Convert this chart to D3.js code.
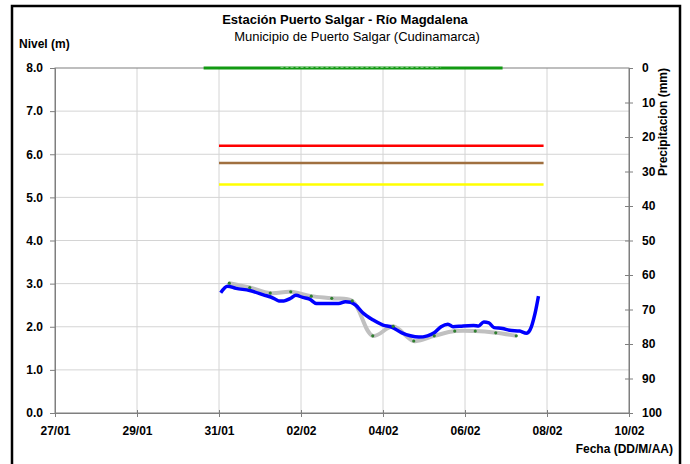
<!DOCTYPE html>
<meta charset="utf-8">
<style>
body { margin: 0; background: #fff; }
text { font-family: "Liberation Sans", Arial, sans-serif; }
.axis text { font-size: 12px; font-weight: bold; fill: #000; }
.axis path, .axis line { stroke: #7f7f7f; }
.grid line { stroke: #d4d4d4; stroke-width: 1px; }
</style>
<body>
<script src="https://d3js.org/d3.v7.min.js"></script>
<script>

// nivel del rio, hourly-ish readings (blue)
var nivelDates = ["31/01 01","31/01 05","31/01 10","31/01 18","01/02 02","01/02 08","01/02 11","01/02 14",
  "01/02 18","01/02 21","02/02 01","02/02 05","02/02 09","02/02 17","02/02 22","03/02 02","03/02 05",
  "03/02 08","03/02 12","03/02 18","04/02 00","04/02 05","04/02 11","04/02 16","04/02 21","05/02 02",
  "05/02 06","05/02 10","05/02 14","05/02 17","05/02 23","06/02 05","06/02 08","06/02 11","06/02 14",
  "06/02 17","06/02 22","07/02 02","07/02 08","07/02 12","07/02 14","07/02 17","07/02 19"];
var nivelValues = [2.79,2.94,2.89,2.84,2.74,2.66,2.60,2.60,
  2.66,2.73,2.68,2.64,2.54,2.54,2.54,2.58,2.57,
  2.50,2.33,2.16,2.04,1.99,1.86,1.79,1.76,1.79,
  1.86,2.00,2.06,2.00,2.02,2.03,2.02,2.11,2.09,
  1.98,1.96,1.92,1.90,1.85,1.92,2.31,2.71];

// lecturas de mira, every 12 hours (gray line with dots)
var miraDates = ["31/01 06","31/01 18","01/02 06","01/02 18","02/02 06","02/02 18","03/02 06","03/02 18",
  "04/02 06","04/02 18","05/02 06","05/02 18","06/02 06","06/02 18","07/02 06"];
var miraValues = [3.01,2.91,2.78,2.81,2.71,2.66,2.60,1.79,2.01,1.67,1.79,1.90,1.90,1.86,1.79];

// umbrales
var umbralNames = ["rojo","naranja","amarillo"];
var umbralValues = [6.2, 5.8, 5.3];
var umbralColors = ["#ff0000", "#a07040", "#ffff00"];
var umbralStart = "31/01 00", umbralEnd = "07/02 22";

// precipitacion (mm)
var precipDates = ["30/01 15","06/02 22"];
var precipValues = [0, 0];

var xTicks = ["27/01","29/01","31/01","02/02","04/02","06/02","08/02","10/02"];
var yTicks = [0,1,2,3,4,5,6,7,8];
var y2Ticks = [0,10,20,30,40,50,60,70,80,90,100];

var margin = {top: 68, right: 61, bottom: 51, left: 55},
    width = 690 - margin.left - margin.right,
    height = 464 - margin.top - margin.bottom;

var parseTime = d3.timeParse("%d/%m %H");
var parseDay = d3.timeParse("%d/%m");
var fmtDay = d3.timeFormat("%d/%m");

var x = d3.scaleTime().domain([parseDay("27/01"), parseDay("10/02")]).range([0, width]);
var y = d3.scaleLinear().domain([0, 8]).range([height, 0]);
var y2 = d3.scaleLinear().domain([0, 100]).range([0, height]);

var svg = d3.select("body").append("svg")
    .attr("width", 690)
    .attr("height", 464);

// outer frame
svg.append("rect")
    .attr("x", 12).attr("y", 6)
    .attr("width", 668).attr("height", 470)
    .attr("fill", "none").attr("stroke", "#000").attr("stroke-width", 2.5);

var g = svg.append("g")
    .attr("transform", "translate(" + margin.left + "," + margin.top + ")");

// grid
g.append("g").attr("class", "grid")
  .selectAll("line").data(yTicks.slice(1, -1)).join("line")
    .attr("x1", 0).attr("x2", width)
    .attr("y1", function(d) { return y(d); }).attr("y2", function(d) { return y(d); });
g.append("g").attr("class", "grid")
  .selectAll("line").data(xTicks.slice(1, -1)).join("line")
    .attr("x1", function(d) { return x(parseDay(d)); }).attr("x2", function(d) { return x(parseDay(d)); })
    .attr("y1", 0).attr("y2", height);

// frame of plot
g.append("rect").attr("width", width).attr("height", height)
    .attr("fill", "none").attr("stroke", "#7f7f7f");

// axes
g.append("g").attr("class", "axis")
    .call(d3.axisLeft(y).tickValues(yTicks).tickFormat(d3.format(".1f")).tickSize(5).tickPadding(7));

var right = g.append("g").attr("class", "axis")
    .attr("transform", "translate(" + width + ",0)")
    .call(d3.axisRight(y2).tickValues(y2Ticks).tickSize(4).tickPadding(9));
right.selectAll(".tick").filter(function(d) { return d > 0; })
  .append("line").attr("x1", -4).attr("x2", 0).attr("stroke", "#7f7f7f");

var bottom = g.append("g").attr("class", "axis")
    .attr("transform", "translate(0," + height + ")")
    .call(d3.axisBottom(x).tickValues(xTicks.map(parseDay)).tickFormat(fmtDay).tickSize(4).tickPadding(9));
bottom.selectAll(".tick").append("line").attr("y1", -3).attr("y2", 0).attr("stroke", "#7f7f7f");

// umbrales
g.selectAll(".umbral").data(umbralValues).join("line")
    .attr("class", "umbral")
    .attr("x1", x(parseTime(umbralStart))).attr("x2", x(parseTime(umbralEnd)))
    .attr("y1", function(d) { return y(d); }).attr("y2", function(d) { return y(d); })
    .attr("stroke", function(d, i) { return umbralColors[i]; })
    .attr("stroke-width", 2.5);

// precipitacion
var precip = precipDates.map(function(d, i) { return {date: parseTime(d), value: precipValues[i]}; });
g.append("path").datum(precip)
    .attr("fill", "none").attr("stroke", "#129a12").attr("stroke-width", 3)
    .attr("d", d3.line().x(function(d) { return x(d.date); }).y(function(d) { return y2(d.value); }));
g.append("line")
    .attr("x1", x(parseTime("01/02 12"))).attr("x2", x(parseTime("05/02 10")))
    .attr("y1", y2(0) - 0.7).attr("y2", y2(0) - 0.7)
    .attr("stroke", "#b8e0b8").attr("stroke-width", 0.8).attr("stroke-dasharray", "3,2");

// mira (gray)
var mira = miraDates.map(function(d, i) { return {date: parseTime(d), value: miraValues[i]}; });
var miraLine = d3.line().curve(d3.curveCatmullRom.alpha(0.5))
    .x(function(d) { return x(d.date); }).y(function(d) { return y(d.value); });
g.append("path").datum(mira)
    .attr("fill", "none").attr("stroke", "#c0c0c0").attr("stroke-width", 4)
    .attr("d", miraLine);

// nivel (blue)
var nivel = nivelDates.map(function(d, i) { return {date: parseTime(d), value: nivelValues[i]}; });
var nivelLine = d3.line().curve(d3.curveMonotoneX)
    .x(function(d) { return x(d.date); }).y(function(d) { return y(d.value); });
g.append("path").datum(nivel)
    .attr("fill", "none").attr("stroke", "#0000ff").attr("stroke-width", 3.5)
    .attr("stroke-linejoin", "round")
    .attr("d", nivelLine);

g.selectAll(".dot").data(mira).join("circle")
    .attr("class", "dot")
    .attr("cx", function(d) { return x(d.date); })
    .attr("cy", function(d) { return y(d.value); })
    .attr("r", 1.6)
    .attr("fill", "#2f7f2f");

// titles
svg.append("text").attr("x", 345).attr("y", 24)
    .attr("text-anchor", "middle").attr("font-size", "13px").attr("font-weight", "bold")
    .text("Estación Puerto Salgar - Río Magdalena");
svg.append("text").attr("x", 357).attr("y", 41)
    .attr("text-anchor", "middle").attr("font-size", "13px")
    .text("Municipio de Puerto Salgar (Cudinamarca)");
svg.append("text").attr("x", 19).attr("y", 48)
    .attr("font-size", "12px").attr("font-weight", "bold")
    .text("Nivel (m)");
svg.append("text").attr("x", 673).attr("y", 453)
    .attr("text-anchor", "end").attr("font-size", "12px").attr("font-weight", "bold")
    .text("Fecha (DD/M/AA)");
svg.append("text")
    .attr("transform", "translate(667,122) rotate(-90)")
    .attr("text-anchor", "middle").attr("font-size", "12px").attr("font-weight", "bold")
    .text("Precipitacion (mm)");

</script>
</body>
